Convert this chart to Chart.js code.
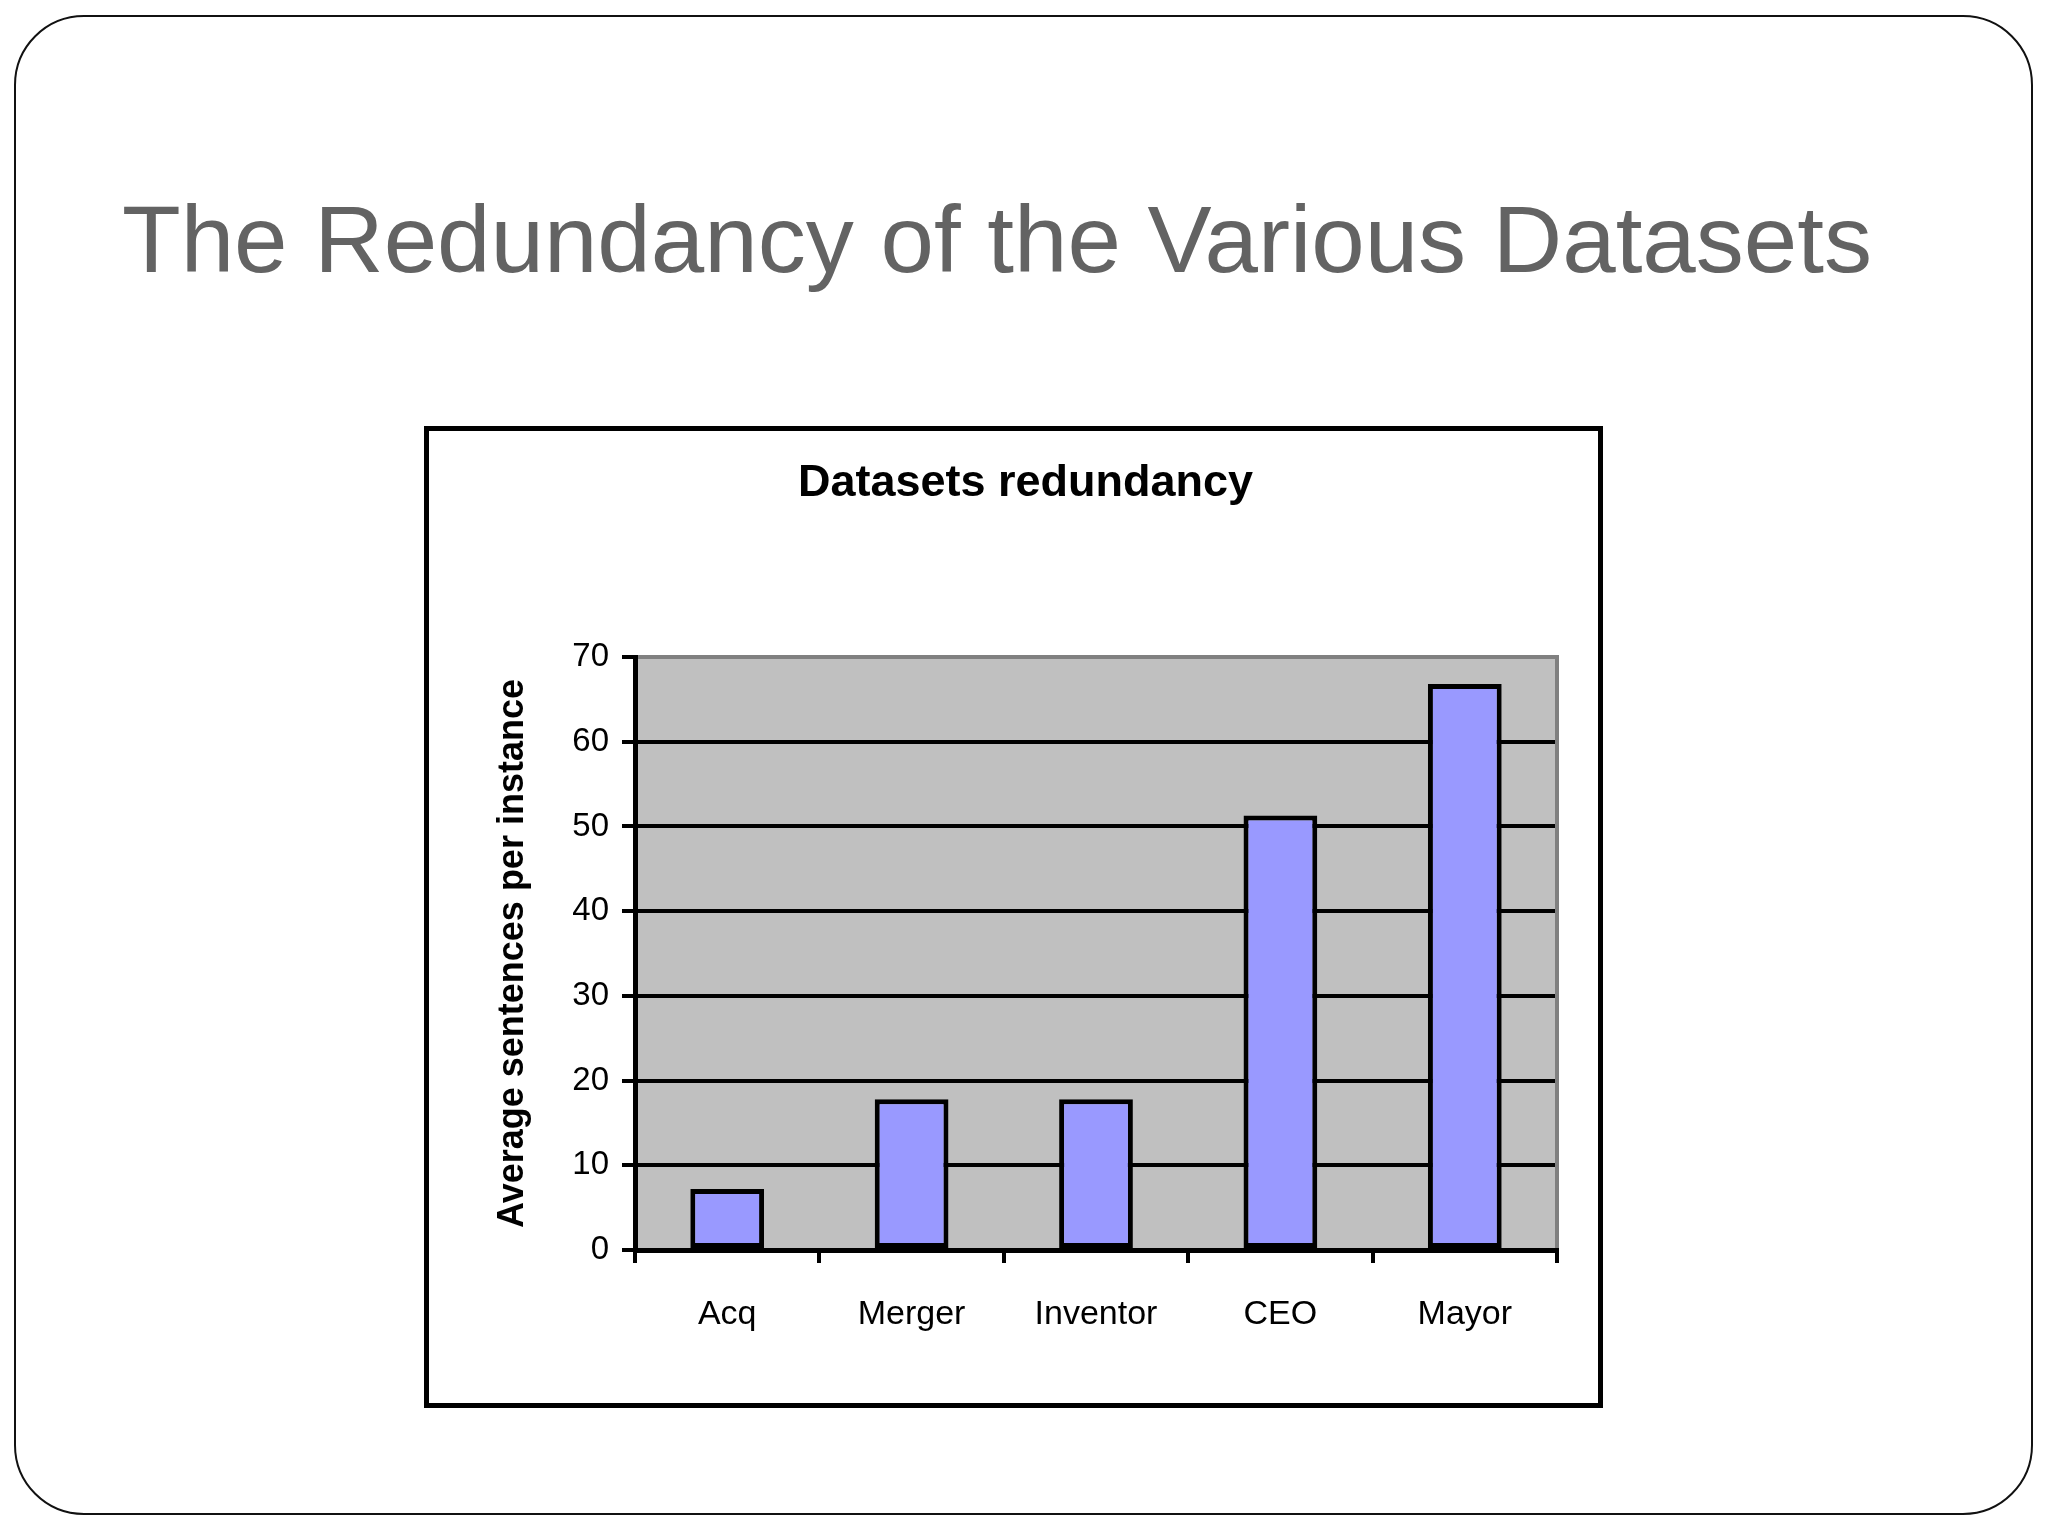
<!DOCTYPE html>
<html>
<head>
<meta charset="utf-8">
<title>Datasets redundancy</title>
<script src="https://cdn.jsdelivr.net/npm/chart.js@4.4.1/dist/chart.umd.min.js"></script>
<style>
  html, body { margin: 0; padding: 0; background: #fff; }
  body { width: 2048px; height: 1536px; position: relative; overflow: hidden; }
  #slide {
    position: absolute; left: 14px; top: 15px; width: 2019px; height: 1500px;
    border: 2px solid #111; border-radius: 70px; box-sizing: border-box;
  }
  #heading {
    position: absolute; left: 122px; top: 193px;
    font-family: "Liberation Sans", Arial, sans-serif; font-size: 94px; line-height: 94px;
    color: #636363; white-space: nowrap; transform-origin: 0 0;
  }
  #box {
    position: absolute; left: 424px; top: 426px; width: 1179px; height: 982px;
    border: 5px solid #000; box-sizing: border-box; background: #fff;
  }
  canvas { display: block; }
</style>
</head>
<body>
<div id="slide"></div>
<div id="heading">The Redundancy of the Various Datasets</div>
<div id="box"><canvas id="chart" width="1169" height="972"></canvas></div>
<script>
const CATEGORIES = ['Acq', 'Merger', 'Inventor', 'CEO', 'Mayor'];
const SENTENCES = [7.2, 17.8, 17.8, 51.3, 66.8];
const Y_TICKS = [0, 10, 20, 30, 40, 50, 60, 70];

const FONT = '"Liberation Sans", Arial, sans-serif';

// grey plot background, grey frame on top and right
const plotFrame = {
    id: 'plotFrame',
    beforeDraw(chart) {
        const { ctx, chartArea: a } = chart;
        ctx.save();
        ctx.fillStyle = '#c0c0c0';
        ctx.fillRect(a.left, a.top, a.right - a.left, a.bottom - a.top);
        ctx.restore();
    },
    beforeDatasetsDraw(chart) {
        const { ctx, chartArea: a } = chart;
        ctx.save();
        ctx.strokeStyle = '#808080';
        ctx.lineWidth = 4;
        ctx.beginPath();
        ctx.moveTo(a.left + 3, a.top);
        ctx.lineTo(a.right, a.top);
        ctx.lineTo(a.right, a.bottom);
        ctx.stroke();
        ctx.restore();
    }
};

const CTX = document.getElementById('chart').getContext('2d');
const CHART = new Chart(CTX, {
    type: 'bar',
    data: {
        labels: CATEGORIES,
        datasets: [
            {
                label: 'Average sentences per instance',
                data: SENTENCES,
                backgroundColor: '#9999ff',
                borderColor: '#000',
                borderWidth: 5,
                borderSkipped: false,
                barPercentage: 0.4,
                categoryPercentage: 1
            }
        ]
    },
    options: {
        responsive: false,
        animation: false,
        devicePixelRatio: 1,
        layout: { padding: { left: 24, top: 0, right: 0, bottom: 0 } },
        plugins: {
            legend: { display: false },
            tooltip: { enabled: false },
            title: {
                display: true,
                text: 'Datasets redundancy',
                color: '#000',
                font: { family: FONT, size: 45, weight: 'bold' },
                padding: { top: 26, bottom: 146 }
            }
        },
        scales: {
            x: {
                afterFit(scale) { scale.height = 153; },
                grid: {
                    offset: true,
                    drawOnChartArea: false,
                    drawTicks: true,
                    tickLength: 13,
                    color: '#000',
                    lineWidth: 4
                },
                border: { display: true, color: '#000', width: 5, z: 1 },
                ticks: {
                    color: '#000',
                    padding: 31,
                    font: { family: FONT, size: 34 }
                }
            },
            y: {
                min: Y_TICKS[0],
                max: Y_TICKS[Y_TICKS.length - 1],
                afterFit(scale) { scale.width = 182; },
                afterBuildTicks(scale) { scale.ticks = Y_TICKS.map(v => ({ value: v })); },
                grid: {
                    drawTicks: true,
                    tickLength: 13,
                    color: '#000',
                    lineWidth: 4
                },
                border: { display: true, color: '#000', width: 5 },
                ticks: {
                    color: '#000',
                    padding: 13,
                    font: { family: FONT, size: 33 }
                },
                title: {
                    display: true,
                    text: 'Average sentences per instance',
                    color: '#000',
                    font: { family: FONT, size: 36, weight: 'bold' },
                    padding: { top: 38, bottom: 0 }
                }
            },
            // empty axis that only keeps the space right of the plot
            yRight: {
                position: 'right',
                display: true,
                afterFit(scale) { scale.width = 41; },
                grid: { display: false },
                border: { display: false },
                ticks: { display: false }
            }
        }
    },
    plugins: [plotFrame]
});

// stretch the slide heading to the width it has on the slide
const HEADING = document.getElementById('heading');
const W = HEADING.getBoundingClientRect().width;
HEADING.style.transform = 'scaleX(' + (1750 / W) + ')';
</script>
</body>
</html>
